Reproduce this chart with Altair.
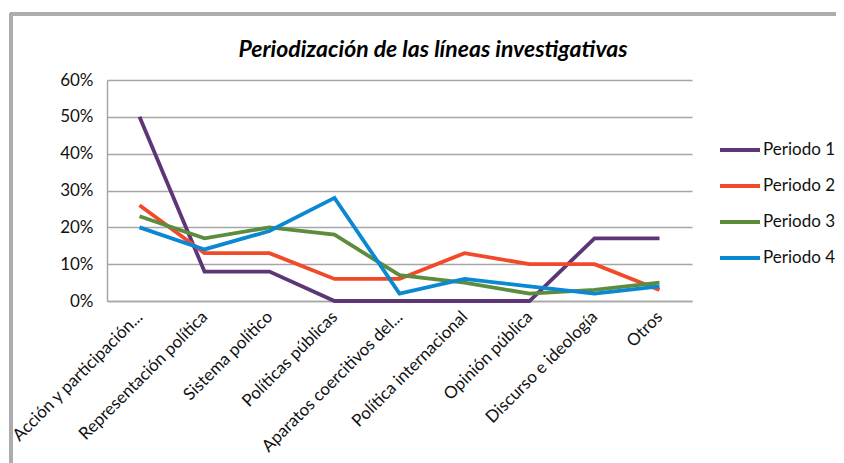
import altair as alt
import pandas as pd

categories = ["Acción y participación...", "Representación política", "Sistema político",
              "Políticas públicas", "Aparatos coercitivos del...", "Política internacional",
              "Opinión pública", "Discurso e ideología", "Otros"]
series_names = ["Periodo 1", "Periodo 2", "Periodo 3", "Periodo 4"]
periodo1 = [0.50, 0.08, 0.08, 0.00, 0.00, 0.00, 0.00, 0.17, 0.17]
periodo2 = [0.26, 0.13, 0.13, 0.06, 0.06, 0.13, 0.10, 0.10, 0.03]
periodo3 = [0.23, 0.17, 0.20, 0.18, 0.07, 0.05, 0.02, 0.03, 0.05]
periodo4 = [0.20, 0.14, 0.19, 0.28, 0.02, 0.06, 0.04, 0.02, 0.04]
colors = ["#5E3678", "#F2492A", "#5C8C3E", "#0A88D2"]
y_ticks = [0, 0.1, 0.2, 0.3, 0.4, 0.5, 0.6]
title_text = "Periodización de las líneas investigativas"

rows = []
for name, vals in zip(series_names, [periodo1, periodo2, periodo3, periodo4]):
    for c, v in zip(categories, vals):
        rows.append({"categoria": c, "serie": name, "valor": v})
df = pd.DataFrame(rows)
title_df = pd.DataFrame({"t": [title_text]})

FONT = "Lato"

lines = alt.Chart(df).mark_line(strokeWidth=3.8, strokeJoin="miter").encode(
    x=alt.X("categoria:N", sort=categories, title=None,
            scale=alt.Scale(paddingOuter=0.5, paddingInner=0),
            axis=alt.Axis(labelAngle=315, labelAlign="right", labelBaseline="middle",
                          labelFontSize=17, labelColor="#111", labelFont=FONT,
                          labelPadding=13, ticks=False, domainColor="#A6A6A6",
                          domainWidth=1.5, labelLimit=300, grid=False)),
    y=alt.Y("valor:Q", title=None, scale=alt.Scale(domain=[0, 0.6], nice=False),
            axis=alt.Axis(values=y_ticks, format=".0%", labelFontSize=17,
                          labelColor="#111", labelFont=FONT, labelPadding=14,
                          ticks=False, domainColor="#A6A6A6", domainWidth=1.5,
                          gridColor="#A6A6A6", gridWidth=1.5)),
    color=alt.Color("serie:N", sort=series_names,
                    scale=alt.Scale(domain=series_names, range=colors),
                    legend=alt.Legend(title=None, orient="none", legendX=611, legendY=48,
                                      symbolType="stroke", symbolSize=1600,
                                      symbolStrokeWidth=4, labelFontSize=17,
                                      labelFont=FONT, labelColor="#111",
                                      rowPadding=6, labelOffset=1)),
)

title_mark = alt.Chart(title_df).mark_text(
    font=FONT, fontSize=23, fontStyle="italic", fontWeight="bold", color="#000",
    align="center", baseline="alphabetic").encode(
    text="t:N", x=alt.value(326), y=alt.value(-23))

frame_top = alt.Chart(df).mark_rule(color="#ADADB0", strokeWidth=2.5).encode(
    x=alt.value(-97), x2=alt.value(760), y=alt.value(-66))
frame_left = alt.Chart(df).mark_rule(color="#ADADB0", strokeWidth=2.5).encode(
    x=alt.value(-96), y=alt.value(-67), y2=alt.value(400))

chart = alt.layer(frame_top, frame_left, lines, title_mark).properties(
    width=585, height=221,
    background="white",
    padding={"left": 99, "top": 72, "right": 144, "bottom": 162},
    autosize=alt.AutoSizeParams(type="none"),
).configure_view(stroke=None)

chart.save("out.html", embed_options={"renderer": "svg", "actions": False})
